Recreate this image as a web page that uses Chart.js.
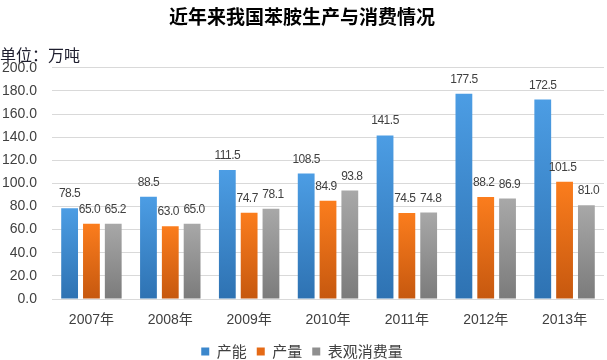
<!DOCTYPE html>
<html>
<head>
<meta charset="utf-8">
<script src="https://cdn.jsdelivr.net/npm/chart.js@4/dist/chart.umd.min.js"></script>
<style>
  body { margin: 0; background: #fff; }
  #wrap { position: relative; width: 607px; height: 360px; }
  #unit { position: absolute; left: 0; top: 42px; font: 16px "Noto Sans CJK SC", sans-serif; color: #1e1e2e; }
</style>
</head>
<body>
<div id="wrap">
  <canvas id="chart" width="607" height="360"></canvas>
  <div id="unit">单位：万吨</div>
</div>
<script>
const years = ['2007年', '2008年', '2009年', '2010年', '2011年', '2012年', '2013年'];
const capacity = [78.5, 88.5, 111.5, 108.5, 141.5, 177.5, 172.5];
const output = [65.0, 63.0, 74.7, 84.9, 74.5, 88.2, 101.5];
const consumption = [65.2, 65.0, 78.1, 93.8, 74.8, 86.9, 81.0];
const yTicks = [0, 20, 40, 60, 80, 100, 120, 140, 160, 180, 200];

const fontLatin = '"Liberation Sans", "Noto Sans CJK SC", sans-serif';

// gradient per bar, light at the top, darker at the bottom
function barFill(top, bottom) {
    return function(ctx) {
        const chart = ctx.chart;
        if (!chart.chartArea || ctx.raw === undefined) return bottom;
        const y = chart.scales.y;
        const g = chart.ctx.createLinearGradient(0, y.getPixelForValue(ctx.raw), 0, y.getPixelForValue(0));
        g.addColorStop(0, top);
        g.addColorStop(1, bottom);
        return g;
    };
}

const labelShift = [0, -2, 2];

const valueLabels = {
    id: 'valueLabels',
    afterDatasetsDraw(chart) {
        const c = chart.ctx;
        c.save();
        c.font = '12px ' + fontLatin;
        c.letterSpacing = '-0.5px';
        c.fillStyle = '#404040';
        c.textAlign = 'center';
        c.textBaseline = 'alphabetic';
        chart.data.datasets.forEach((ds, i) => {
            chart.getDatasetMeta(i).data.forEach((bar, j) => {
                c.fillText(ds.data[j].toFixed(1), bar.x + labelShift[i], bar.y - 11);
            });
        });
        c.restore();
    }
};

new Chart(document.getElementById('chart'), {
    type: 'bar',
    data: {
        labels: years,
        datasets: [
            { label: '产能', data: capacity, backgroundColor: barFill('#4c9de4', '#2e72b2') },
            { label: '产量', data: output, backgroundColor: barFill('#fb7d1d', '#c6580f') },
            { label: '表观消费量', data: consumption, backgroundColor: barFill('#a8a8a8', '#7b7b7b') }
        ]
    },
    options: {
        responsive: false,
        animation: false,
        categoryPercentage: 0.83,
        barPercentage: 0.77,
        layout: { padding: { left: 0, right: 3, top: 0, bottom: -9 } },
        plugins: {
            title: {
                display: true,
                text: '近年来我国苯胺生产与消费情况',
                color: '#000',
                font: { family: '"Noto Sans CJK SC", sans-serif', size: 19, weight: 'bold' },
                padding: { top: 5, bottom: 40 }
            },
            legend: {
                position: 'bottom',
                labels: {
                    boxWidth: 8,
                    boxHeight: 8,
                    padding: 10,
                    color: '#404040',
                    font: { family: '"Noto Sans CJK SC", sans-serif', size: 15 },
                    generateLabels(chart) {
                        const cols = ['#3b87cc', '#e56a16', '#8f8f8f'];
                        return chart.data.datasets.map((ds, i) => ({
                            text: ds.label, fillStyle: cols[i], strokeStyle: cols[i],
                            lineWidth: 0, datasetIndex: i, fontColor: '#404040'
                        }));
                    }
                }
            },
            tooltip: { enabled: false }
        },
        scales: {
            x: {
                grid: { display: false },
                border: { display: false },
                ticks: { color: '#404040', padding: 5, font: { family: fontLatin, size: 14 } },
                afterFit(s) { s.height = 35; }
            },
            y: {
                min: 0,
                max: 200,
                afterBuildTicks(s) { s.ticks = yTicks.map(v => ({ value: v })); },
                grid: { color: '#d9d9d9', drawTicks: false },
                border: { display: false },
                ticks: {
                    color: '#404040',
                    padding: 15,
                    font: { family: fontLatin, size: 14 },
                    callback: v => v.toFixed(1)
                },
                afterFit(s) { s.width = 52; }
            }
        }
    },
    plugins: [valueLabels]
});
</script>
</body>
</html>
